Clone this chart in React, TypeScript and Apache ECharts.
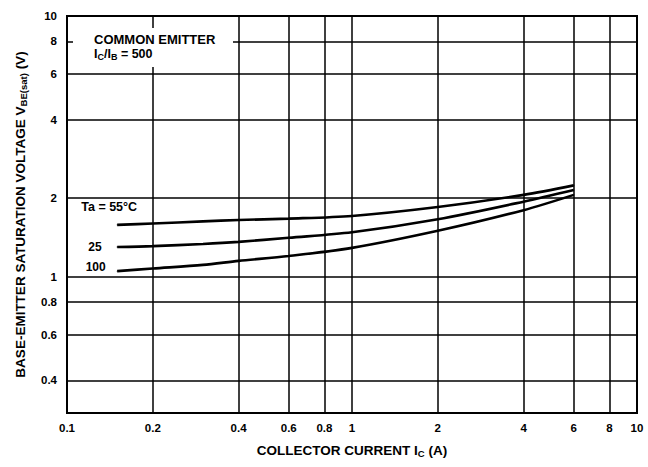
import React, { useEffect, useRef } from "react";
import * as echarts from "echarts";

// Axis tick values (log scales)
const xTicks = [0.1, 0.2, 0.4, 0.6, 0.8, 1, 2, 4, 6, 8, 10];
const yTicks = [0.4, 0.6, 0.8, 1, 2, 4, 6, 8, 10];

// Collector current Ic (A)
const currentA = [0.15, 0.2, 0.3, 0.4, 0.6, 1, 2, 4, 6];
// VBE(sat) (V) for each ambient temperature
const vbe55 = [1.58, 1.6, 1.63, 1.65, 1.67, 1.71, 1.85, 2.06, 2.24];
const vbe25 = [1.3, 1.31, 1.335, 1.36, 1.41, 1.48, 1.66, 1.94, 2.15];
const vbe100 = [1.05, 1.075, 1.11, 1.15, 1.2, 1.29, 1.5, 1.8, 2.06];
const curveLabels = ["Ta = 55°C", "25", "100"];

const FONT = "Liberation Sans, Arial, sans-serif";

function fmt(v: number) {
  return String(+Number(v).toPrecision(3));
}

function buildData(vals: number[], label: any) {
  return currentA.map((x, i) =>
    i === 0 ? { value: [x, vals[i]], label } : { value: [x, vals[i]] }
  );
}

export default function App() {
  const ref = useRef<HTMLDivElement>(null);
  useEffect(() => {
    if (!ref.current) return;
    const chart = echarts.init(ref.current, null, { renderer: "svg" });
    const labelBase = {
      show: true,
      color: "#000",
      fontFamily: FONT,
      fontWeight: "bold",
      fontSize: 12,
    };
    const lineSeries = (name: string, vals: number[], label: any) => ({
      type: "line",
      name,
      data: buildData(vals, label),
      smooth: 0.3,
      showSymbol: true,
      symbol: "circle",
      symbolSize: 1,
      itemStyle: { color: "#000" },
      lineStyle: { color: "#000", width: 2.6 },
      label: { show: false },
      z: 5,
    });
    const titleStyle = {
      color: "#000",
      fontFamily: FONT,
      fontWeight: "bold",
      fontSize: 13.5,
      rich: {
        sub: {
          fontSize: 9.5,
          fontWeight: "bold",
          fontFamily: FONT,
          color: "#000",
          padding: [5, 0, 0, 0],
        },
      },
    };
    chart.setOption({
      animation: false,
      backgroundColor: "#fff",
      grid: {
        left: 67,
        right: 11,
        top: 16,
        bottom: 54,
        show: true,
        borderColor: "#000",
        borderWidth: 2,
        backgroundColor: "transparent",
        outerBoundsMode: "none",
      },
      xAxis: {
        type: "log",
        min: 0.1,
        max: 10,
        logBase: 10,
        name: "COLLECTOR CURRENT I{sub|C} (A)",
        nameLocation: "middle",
        nameGap: 30,
        nameTextStyle: titleStyle,
        axisLine: { show: true, lineStyle: { color: "#000", width: 2 } },
        axisTick: { show: false, customValues: xTicks },
        axisLabel: {
          customValues: xTicks,
          color: "#000",
          fontFamily: FONT,
          fontWeight: "bold",
          fontSize: 11.5,
          margin: 9,
          formatter: (v: number) => fmt(v),
        },
        splitLine: { show: true, lineStyle: { color: "#000", width: 1.5 } },
        minorSplitLine: { show: false },
      },
      yAxis: {
        type: "log",
        min: 0.3,
        max: 10,
        logBase: 10,
        name: "BASE-EMITTER SATURATION VOLTAGE V{sub|BE(sat)} (V)",
        nameLocation: "middle",
        nameRotate: 90,
        nameGap: 39,
        nameTextStyle: titleStyle,
        axisLine: { show: true, lineStyle: { color: "#000", width: 2 } },
        axisTick: { show: false, customValues: yTicks },
        axisLabel: {
          customValues: yTicks,
          color: "#000",
          fontFamily: FONT,
          fontWeight: "bold",
          fontSize: 11.5,
          margin: 10,
          formatter: (v: number) => fmt(v),
        },
        splitLine: { show: true, lineStyle: { color: "#000", width: 1.5 } },
      },
      series: [
        lineSeries(curveLabels[0], vbe55, {
          ...labelBase,
          fontSize: 12.5,
          formatter: curveLabels[0],
          position: "top",
          distance: 11,
          offset: [-8, 0],
        }),
        lineSeries(curveLabels[1], vbe25, {
          ...labelBase,
          formatter: curveLabels[1],
          position: "left",
          distance: 15,
        }),
        lineSeries(curveLabels[2], vbe100, {
          ...labelBase,
          formatter: curveLabels[2],
          position: "left",
          distance: 11,
          offset: [0, -4],
        }),
      ],
      graphic: [
        {
          type: "rect",
          z: 100,
          shape: { x: 73, y: 28, width: 160, height: 39 },
          style: { fill: "#fff" },
        },
        {
          type: "text",
          z: 101,
          x: 94,
          y: 33,
          style: {
            text: "COMMON EMITTER",
            fill: "#000",
            font: "bold 13px " + FONT,
          },
        },
        {
          type: "text",
          z: 101,
          x: 94,
          y: 46,
          style: {
            text: "I{s|C}/I{s|B} = 500",
            fill: "#000",
            font: "bold 12.5px " + FONT,
            rich: {
              s: { font: "bold 9px " + FONT, fill: "#000", padding: [6, 0, 0, 0] },
            },
          },
        },
      ],
    });
    return () => chart.dispose();
  }, []);
  return (
    <div
      ref={ref}
      style={{ position: "absolute", left: 0, top: 0, width: 648, height: 467 }}
    />
  );
}
